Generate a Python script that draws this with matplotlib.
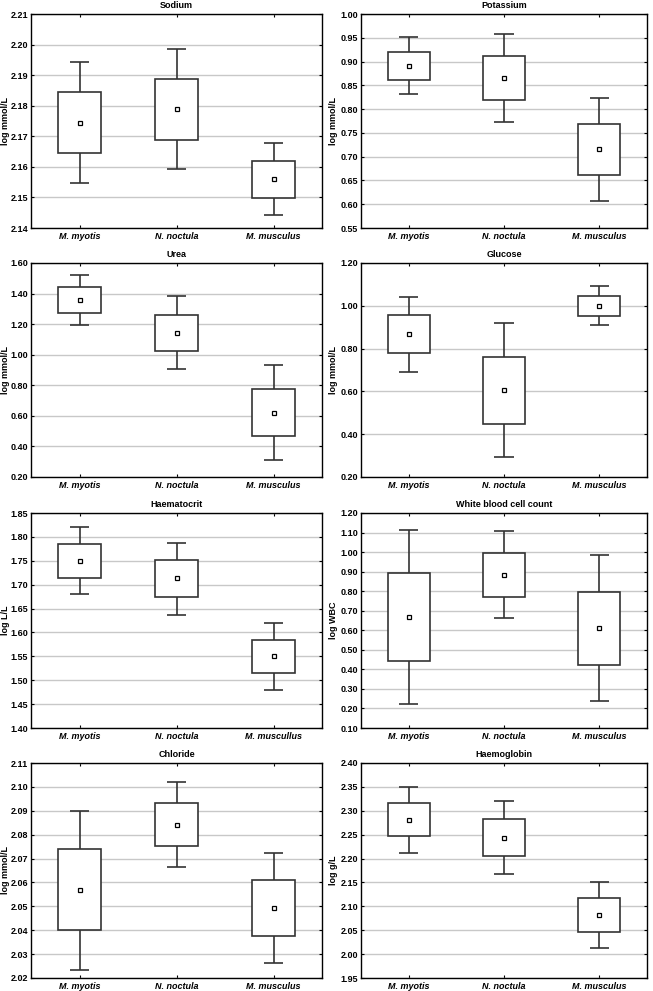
import numpy as np
import matplotlib
matplotlib.use("Agg")
import matplotlib.pyplot as plt
from matplotlib.ticker import FormatStrFormatter

plt.rcParams['font.family'] = ['Liberation Sans', 'DejaVu Sans']
plt.rcParams['font.weight'] = 'bold'

SPECIES = ["M. myotis", "N. noctula", "M. musculus"]
SPECIES_HCT = ["M. myotis", "N. noctula", "M. muscullus"]

TITLES = ["Sodium", "Potassium", "Urea", "Glucose",
          "Haematocrit", "White blood cell count", "Chloride", "Haemoglobin"]
YLABELS = ["log mmol/L", "log mmol/L", "log mmol/L", "log mmol/L",
           "log L/L", "log WBC", "log mmol/L", "log g/L"]

# (ymin, ymax, step)
YAXES = [(2.14, 2.21, 0.01), (0.55, 1.00, 0.05), (0.20, 1.60, 0.20),
         (0.20, 1.20, 0.20), (1.40, 1.85, 0.05), (0.10, 1.20, 0.10),
         (2.02, 2.11, 0.01), (1.95, 2.40, 0.05)]

# per panel, per species: mean, box (low, high), whiskers (low, high)
sodium_mean = [2.1744, 2.1790, 2.1559]
sodium_box = [(2.1644, 2.1844), (2.1688, 2.1888), (2.1499, 2.1619)]
sodium_whisk = [(2.1547, 2.1942), (2.1593, 2.1986), (2.1441, 2.1679)]

potassium_mean = [0.8915, 0.865, 0.716]
potassium_box = [(0.8614, 0.921), (0.8194, 0.912), (0.661, 0.769)]
potassium_whisk = [(0.832, 0.951), (0.7725, 0.957), (0.607, 0.823)]

urea_mean = [1.358, 1.144, 0.621]
urea_box = [(1.275, 1.441), (1.024, 1.262), (0.466, 0.778)]
urea_whisk = [(1.192, 1.524), (0.907, 1.382), (0.313, 0.933)]

glucose_mean = [0.866, 0.607, 1.001]
glucose_box = [(0.779, 0.956), (0.450, 0.763), (0.954, 1.044)]
glucose_whisk = [(0.691, 1.043), (0.295, 0.919), (0.909, 1.091)]

hct_mean = [1.750, 1.713, 1.551]
hct_box = [(1.714, 1.785), (1.674, 1.751), (1.516, 1.585)]
hct_whisk = [(1.680, 1.820), (1.636, 1.788), (1.480, 1.620)]

wbc_mean = [0.670, 0.885, 0.613]
wbc_box = [(0.442, 0.894), (0.772, 0.996), (0.422, 0.798)]
wbc_whisk = [(0.223, 1.113), (0.663, 1.106), (0.238, 0.983)]

chloride_mean = [2.0569, 2.0842, 2.0494]
chloride_box = [(2.0399, 2.0740), (2.0751, 2.0932), (2.0376, 2.0609)]
chloride_whisk = [(2.0235, 2.0901), (2.0665, 2.1019), (2.0263, 2.0725)]

hb_mean = [2.281, 2.243, 2.082]
hb_box = [(2.247, 2.316), (2.205, 2.282), (2.047, 2.1178)]
hb_whisk = [(2.212, 2.3503), (2.167, 2.3195), (2.012, 2.1515)]

PANELS = [
    (sodium_mean, sodium_box, sodium_whisk),
    (potassium_mean, potassium_box, potassium_whisk),
    (urea_mean, urea_box, urea_whisk),
    (glucose_mean, glucose_box, glucose_whisk),
    (hct_mean, hct_box, hct_whisk),
    (wbc_mean, wbc_box, wbc_whisk),
    (chloride_mean, chloride_box, chloride_whisk),
    (hb_mean, hb_box, hb_whisk),
]

W, H = 653, 991
# axes rectangles in pixels: rows (top, bottom), columns (left, right)
ROWS = [(14, 228), (263, 477), (513, 728), (763, 978)]
LEFT_X = (31, 322)
RIGHT_X = (361, 647)
# x pixel of the right edge of the rotated y label
YLABEL_PX = {0: 10, 1: 338}

LINE_COL = "#333333"


def draw_panel(ax, means, boxes, whisks, title, ylabel, yax, labels):
    x = np.arange(1, len(means) + 1)
    lo = np.array([b[0] for b in boxes])
    hi = np.array([b[1] for b in boxes])
    wlo = np.array([w[0] for w in whisks])
    whi = np.array([w[1] for w in whisks])

    ax.vlines(x, wlo, lo, color=LINE_COL, lw=1.2, zorder=3)
    ax.vlines(x, hi, whi, color=LINE_COL, lw=1.2, zorder=3)
    ax.hlines(wlo, x - 0.1, x + 0.1, color=LINE_COL, lw=1.2, zorder=3)
    ax.hlines(whi, x - 0.1, x + 0.1, color=LINE_COL, lw=1.2, zorder=3)
    ax.bar(x, hi - lo, bottom=lo, width=0.44, facecolor="white",
           edgecolor=LINE_COL, lw=1.2, zorder=4)
    ax.plot(x, means, ls="none", marker="s", ms=3.2, mfc="white",
            mec="black", mew=0.9, zorder=5)

    ymin, ymax, step = yax
    ax.set_ylim(ymin, ymax)
    ax.set_xlim(0.5, len(means) + 0.5)
    ticks = np.arange(ymin, ymax + step / 2, step)
    ax.set_yticks(ticks)
    ax.yaxis.set_major_formatter(FormatStrFormatter("%.2f"))
    ax.set_xticks(x)
    ax.set_xticklabels(labels, fontstyle="italic", fontweight="bold")
    ax.grid(axis="y", color="#c8c8c8", lw=1.0, zorder=0)
    ax.set_axisbelow(True)
    ax.tick_params(axis="both", labelsize=6.5, direction="in", length=2,
                   top=True, right=True, width=0.8, pad=3)
    ax.tick_params(axis="y", pad=2)
    for s in ax.spines.values():
        s.set_linewidth(1.0)
    ax.set_title(title, fontsize=6.5, fontweight="bold", pad=4)
    ax.set_ylabel(ylabel, fontsize=6.5, fontweight="bold")


fig = plt.figure(figsize=(W / 100, H / 100), dpi=100)

for i, (data, title, ylabel, yax) in enumerate(zip(PANELS, TITLES, YLABELS, YAXES)):
    row, col = divmod(i, 2)
    top, bottom = ROWS[row]
    xl, xr = LEFT_X if col == 0 else RIGHT_X
    ax = fig.add_axes([xl / W, 1 - bottom / H, (xr - xl) / W, (bottom - top) / H])
    labels = SPECIES_HCT if title == "Haematocrit" else SPECIES
    draw_panel(ax, *data, title, ylabel, yax, labels)
    ax.yaxis.set_label_coords((YLABEL_PX[col] - xl) / (xr - xl), 0.5)

fig.savefig("out.png", dpi=100, facecolor="white")
